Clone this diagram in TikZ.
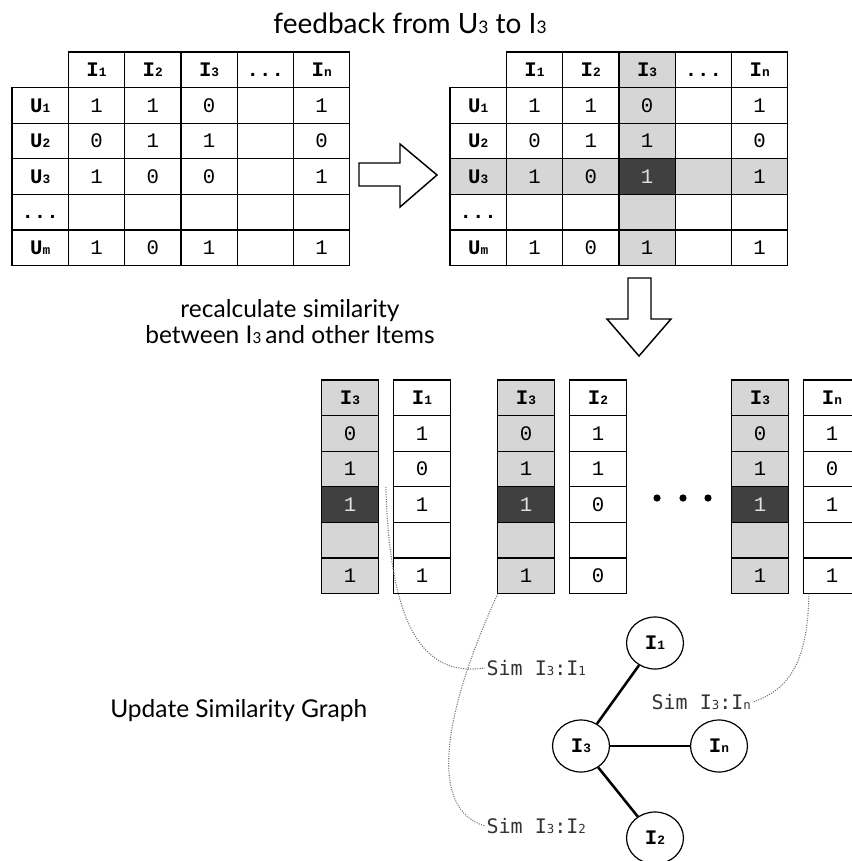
\documentclass[tikz,border=0pt]{standalone}
\usepackage{graphicx}
\usepackage{fontspec}
\setmainfont{Lato}
\newfontfamily\tabfont{Liberation Mono}
\newfontfamily\simfont{DejaVu Sans Mono}
\usetikzlibrary{shapes.geometric}

\definecolor{cellgray}{RGB}{214,214,214}
\definecolor{celldark}{RGB}{64,64,64}

% small index digits sitting on the baseline
\newcommand\ix[1]{\scalebox{0.62}{#1}}
\newcommand\mdots{...}

\begin{document}
\begin{tikzpicture}[x=0.75pt,y=0.75pt,yscale=-1,xscale=1,
    cell/.style={draw, line width=0.9pt, minimum width=42.2pt, minimum height=26.7pt, inner sep=0pt, outer sep=0pt, text height=10pt, text depth=0pt, font=\tabfont\fontsize{15.5}{15.5}\selectfont},
    head/.style={cell, font=\tabfont\bfseries\fontsize{15.5}{15.5}\selectfont},
    lit/.style={fill=cellgray},
    dark/.style={fill=celldark, text=white!88!black},
    tone/.code={\ifcase#1\or\pgfkeysalso{lit}\or\pgfkeysalso{dark}\fi},
    vertex/.style={ellipse, draw, line width=0.9pt, minimum width=42.7pt, minimum height=39pt, inner sep=0pt, font=\tabfont\bfseries\fontsize{15.5}{15.5}\selectfont},
    link/.style={line width=1.9pt},
    simlink/.style={densely dotted, black!55, line width=0.8pt},
    bigarrow/.style={draw, line width=1.1pt, fill=white, line join=miter},
    simlabel/.style={font=\simfont\fontsize{15}{15}\selectfont, text=black!80, inner sep=1pt},
    caption/.style={font=\fontsize{18.4}{22}\selectfont, inner sep=0pt}]
    \useasboundingbox (0,0) rectangle (852,861);

    % Text Node
    \node[caption, anchor=base, font=\fontsize{21}{24}\selectfont] (fb) at (410,33) {feedback from U\ix{3} to I\ix{3}};

    %Table: user/item ratings before the feedback
    \foreach \name [count=\c] in {I\ix{1},I\ix{2},I\ix{3},\mdots,I\ix{n}}
        \node[head] (L-0-\c) at ({12+(\c+0.5)*56.3},69.8) {\name};
    \foreach \user/\vals [count=\r] in {U\ix{1}/{1,1,0,{},1},U\ix{2}/{0,1,1,{},0},U\ix{3}/{1,0,0,{},1},\mdots/{{},{},{},{},{}},U\ix{m}/{1,0,1,{},1}}{
        \node[head] (L-\r-0) at (40.2,{52+(\r+0.5)*35.6}) {\user};
        \foreach \v [count=\c] in \vals
            \node[cell] (L-\r-\c) at ({12+(\c+0.5)*56.3},{52+(\r+0.5)*35.6}) {\v};
    }

    %Table: ratings after the feedback, row U3 and column I3 shaded
    \foreach \name [count=\c] in {I\ix{1},I\ix{2},I\ix{3},\mdots,I\ix{n}}{
        \pgfmathtruncatemacro\tn{(\c==3)}
        \node[head, tone=\tn] (R-0-\c) at ({450+(\c+0.5)*56.3},69.8) {\name};
    }
    \foreach \user/\vals [count=\r] in {U\ix{1}/{1,1,0,{},1},U\ix{2}/{0,1,1,{},0},U\ix{3}/{1,0,1,{},1},\mdots/{{},{},{},{},{}},U\ix{m}/{1,0,1,{},1}}{
        \pgfmathtruncatemacro\tn{(\r==3)}
        \node[head, tone=\tn] (R-\r-0) at (478.2,{52+(\r+0.5)*35.6}) {\user};
        \foreach \v [count=\c] in \vals{
            \pgfmathtruncatemacro\tn{(\r==3)+(\c==3)}
            \node[cell, tone=\tn] (R-\r-\c) at ({450+(\c+0.5)*56.3},{52+(\r+0.5)*35.6}) {\v};
        }
    }

    %Shape: block arrows
    \draw[bigarrow] (359,163) -- (400,163) -- (400,144) -- (437,175) -- (400,207) -- (400,186) -- (359,186) -- cycle;
    \draw[bigarrow] (628,278) -- (651,278) -- (651,319) -- (671,319) -- (639,356) -- (607,319) -- (628,319) -- cycle;

    % Text Node
    \node[caption, anchor=base] (rc1) at (290,317) {recalculate similarity};
    \node[caption, anchor=base] (rc2) at (290,343) {between I\ix{3}\,and other Items};

    %Columns: I3 next to each other item
    \foreach \p/\x/\name/\vals in {1/322/I\ix{1}/{1,0,1,{},1},2/498/I\ix{2}/{1,1,0,{},0},3/732/I\ix{n}/{1,0,1,{},1}}{
        \node[head, lit] (A\p-0) at (\x+28,397.8) {I\ix{3}};
        \node[head] (B\p-0) at (\x+100,397.8) {\name};
        \foreach \v [count=\r] in {0,1,1,{},1}{
            \pgfmathtruncatemacro\tn{1+(\r==3)}
            \node[cell, tone=\tn] (A\p-\r) at (\x+28,{397.8+\r*35.6}) {\v};
        }
        \foreach \v [count=\r] in \vals
            \node[cell] (B\p-\r) at (\x+100,{397.8+\r*35.6}) {\v};
    }
    \fill (657,498) circle (3.6);
    \fill (683,498) circle (3.6);
    \fill (708,498) circle (3.6);

    % Text Node
    \node[caption, anchor=base west] (ug) at (110,717) {Update Similarity Graph};

    %Graph: similarity of I3 to the other items
    \node[vertex] (g1) at (655,643) {I\ix{1}};
    \node[vertex] (g3) at (581,746) {I\ix{3}};
    \node[vertex] (gn) at (719,746) {I\ix{n}};
    \node[vertex] (g2) at (655,838) {I\ix{2}};
    \draw[link] (g3) -- (g1);
    \draw[link] (g3) -- (gn);
    \draw[link] (g3) -- (g2);

    \node[simlabel, anchor=west] (s1) at (485,668) {Sim I\ix{3}:I\ix{1}};
    \node[simlabel, anchor=west] (sn) at (650,702) {Sim I\ix{3}:I\ix{n}};
    \node[simlabel, anchor=west] (s2) at (485,826) {Sim I\ix{3}:I\ix{2}};

    %Dotted lines from the columns to the edge labels
    \coordinate (tap1) at ([xshift=-6pt]B1-3.north west);
    \draw[simlink] (tap1) .. controls (390,640) and (430,676) .. (s1.west);
    \draw[simlink] (A2-5.south west) .. controls (440,720) and (430,810) .. (s2.west);
    \draw[simlink] ([xshift=3.75pt]B3-5.south west) .. controls (808,660) and (790,690) .. (sn.east);
\end{tikzpicture}
\end{document}
